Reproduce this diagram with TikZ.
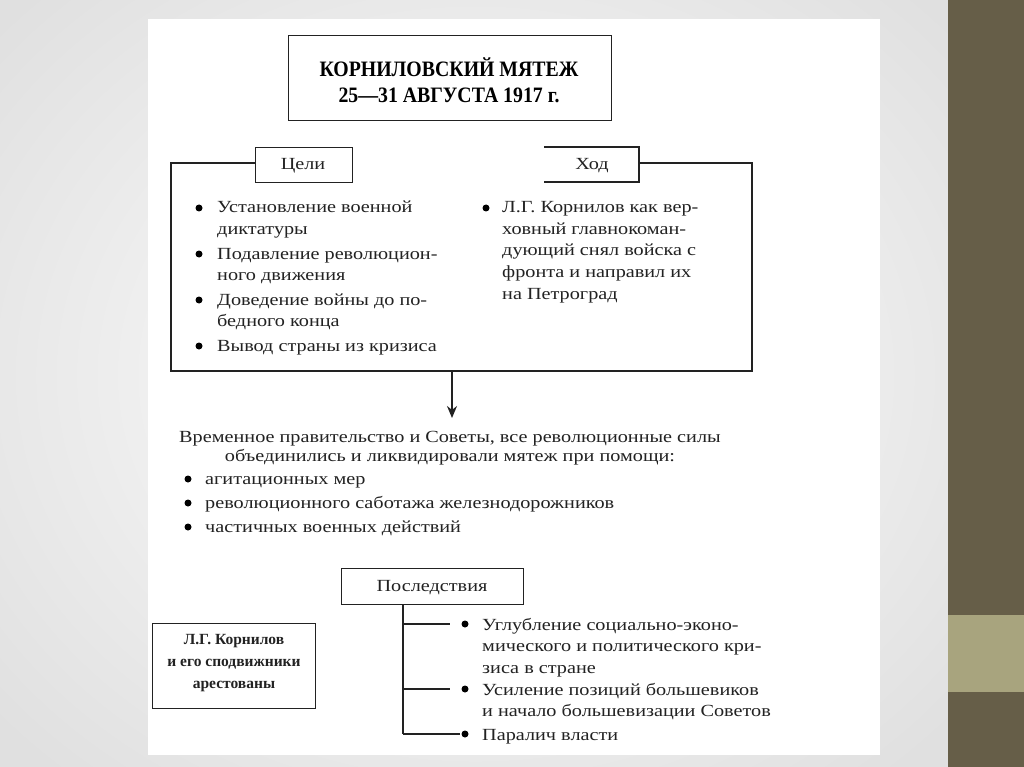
\documentclass[tikz,border=0pt]{standalone}
\usepackage{fontspec}
\usetikzlibrary{arrows.meta}
\setmainfont{Liberation Serif}
\newfontfamily\bodyf[FakeStretch=1.19]{Liberation Serif}
\newfontfamily\titlef[FakeStretch=0.9]{Liberation Serif}
\newfontfamily\kornf{Liberation Serif}
\definecolor{band}{HTML}{665E48}
\definecolor{bandlight}{HTML}{A8A47E}
\definecolor{ink}{HTML}{222222}
\newcommand{\ml}[1]{\vtop{\halign{##\hfil\cr#1\crcr}}}
\tikzset{
  frame/.style={draw=ink, line width=1.4pt},
  lbl/.style={draw=ink, line width=1.4pt, fill=white, inner sep=0},
  txt/.style={font=\bodyf\fontsize{17}{21.5}\selectfont, text=ink, inner sep=0, anchor=base west},
  ctxt/.style={font=\bodyf\fontsize{17}{19}\selectfont, text=ink, inner sep=0, anchor=base},
  bul/.style={circle, fill=black, inner sep=0, minimum size=7pt},
  ttl/.style={font=\titlef\bfseries\fontsize{22}{26}\selectfont, text=black, inner sep=0, anchor=base},
  btxt/.style={font=\kornf\bfseries\fontsize{15.5}{22}\selectfont, text=ink, inner sep=0, anchor=base}
}
\begin{document}
\begin{tikzpicture}[x=1pt,y=-1pt]
\useasboundingbox (0,0) rectangle (1024,767);
% background
\shade[inner color=white, outer color=black!12] (-150,-150) rectangle (1100,900);
\fill[white] (148,19) rectangle (880,755);
\fill[band] (948,0) rectangle (1024,767);
\fill[bandlight] (948,615) rectangle (1024,692);

% title
\node[frame, minimum width=323pt, minimum height=85pt, anchor=north west, inner sep=0] (title) at (288,35) {};
\node[ttl] (t1) at (449,77) {КОРНИЛОВСКИЙ МЯТЕЖ};
\node[ttl] (t2) at (449,103) {25—31 АВГУСТА 1917 г.};

% frame with Цели and Ход
\coordinate (fa) at (255,163);
\coordinate (fb) at (171,163);
\coordinate (fc) at (171,371);
\coordinate (fd) at (752,371);
\coordinate (fe) at (752,163);
\coordinate (ff) at (639,163);
\draw[frame] (fa) -- (fb) -- (fc) -- (fd) -- (fe) -- (ff);
\node[lbl, minimum width=97pt, minimum height=35pt, anchor=north west] (celi) at (255,147) {};
\node[ctxt] (celit) at (303,170) {Цели};
\coordinate (ha) at (544,147);
\coordinate (hb) at (639,147);
\coordinate (hc) at (639,182);
\coordinate (hd) at (544,182);
\draw[frame] (ha) -- (hb) -- (hc) -- (hd);
\node[ctxt] (hodt) at (592,170) {Ход};

% Цели items
\node[bul] (b1) at (199,208) {};
\node[txt] (c1) at (217,213) {\ml{Установление военной\cr диктатуры}};
\node[bul] (b2) at (199,254) {};
\node[txt] (c2) at (217,259) {\ml{Подавление революцион-\cr ного движения}};
\node[bul] (b3) at (199,300) {};
\node[txt] (c3) at (217,305) {\ml{Доведение войны до по-\cr бедного конца}};
\node[bul] (b4) at (199,346) {};
\node[txt] (c4) at (217,351) {Вывод страны из кризиса};

% Ход items
\node[bul] (h1) at (486,208) {};
\node[txt] (h1t) at (502,213) {\ml{Л.Г. Корнилов как вер-\cr ховный главнокоман-\cr дующий снял войска с\cr фронта и направил их\cr на Петроград}};

% arrow
\coordinate (arrS) at (452,371);
\coordinate (arrE) at (452,418);
\draw[frame, -{Stealth[length=12pt,width=10pt]}] (arrS) -- (arrE);

% middle text
\node[ctxt] (m1) at (450,442) {Временное правительство и Советы, все революционные силы};
\node[ctxt] (m2) at (450,461) {объединились и ликвидировали мятеж при помощи:};
\node[bul] (mb1) at (188,479) {};
\node[txt] (mt1) at (205,484) {агитационных мер};
\node[bul] (mb2) at (188,503) {};
\node[txt] (mt2) at (205,508) {революционного саботажа железнодорожников};
\node[bul] (mb3) at (188,527) {};
\node[txt] (mt3) at (205,532) {частичных военных действий};

% consequences
\node[lbl, minimum width=182pt, minimum height=36pt, anchor=north west] (posl) at (341,568) {};
\node[ctxt] (poslt) at (432,591) {Последствия};
\coordinate (v0) at (403,604);
\coordinate (v1) at (403,624);
\coordinate (v2) at (403,689);
\coordinate (v3) at (403,734);
\coordinate (e1) at (450,624);
\coordinate (e2) at (450,689);
\coordinate (e3) at (460,734);
\draw[frame] (posl.south -| v0) -- (v3);
\draw[frame] (v1) -- (e1);
\draw[frame] (v2) -- (e2);
\draw[frame] (v3) -- (e3);
\node[bul] (pb1) at (465,624) {};
\node[txt] (pt1) at (482,630) {\ml{Углубление социально-эконо-\cr мического и политического кри-\cr зиса в стране}};
\node[bul] (pb2) at (465,689) {};
\node[txt] (pt2) at (482,695) {\ml{Усиление позиций большевиков\cr и начало большевизации Советов}};
\node[bul] (pb3) at (465,734) {};
\node[txt] (pt3) at (482,740) {Паралич власти};

% left box
\node[frame, minimum width=163pt, minimum height=85pt, anchor=north west, inner sep=0] (korn) at (152,623) {};
\node[btxt] (k1) at (234,644) {Л.Г. Корнилов};
\node[btxt] (k2) at (234,666) {и его сподвижники};
\node[btxt] (k3) at (234,688) {арестованы};
\end{tikzpicture}
\end{document}
